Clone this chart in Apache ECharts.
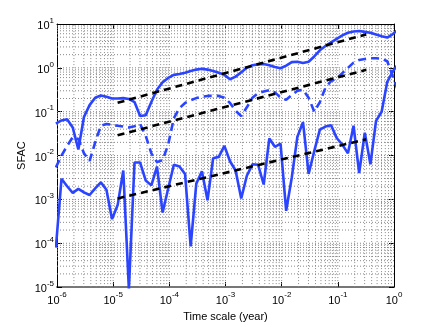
<!DOCTYPE html>
<html>
<head>
<meta charset="utf-8">
<script src="https://cdn.jsdelivr.net/npm/echarts@6/dist/echarts.min.js"></script>
<style>
  html, body { margin: 0; background: #fff; }
  #chart { width: 436px; height: 327px; }
</style>
</head>
<body>
<div id="chart"></div>
<script>
// sample times, log10(year)
var timeLog = [
  -6.02, -5.92, -5.82, -5.72, -5.62, -5.52, -5.42, -5.32, -5.22, -5.12,
  -5.02, -4.92, -4.82, -4.72, -4.62, -4.52, -4.42, -4.32, -4.22, -4.12,
  -4.02, -3.92, -3.82, -3.72, -3.62, -3.52, -3.42, -3.32, -3.22, -3.12,
  -3.02, -2.92, -2.82, -2.72, -2.62, -2.52, -2.42, -2.32, -2.22, -2.12,
  -2.02, -1.92, -1.82, -1.72, -1.62, -1.52, -1.42, -1.32, -1.22, -1.12,
  -1.02, -0.92, -0.82, -0.72, -0.62, -0.52, -0.42, -0.32, -0.22, -0.12,
  -0.02, 0.08
];

// SFAC values, log10
var upperLog = [
  -1.27, -1.20, -1.17, -1.36, -1.86, -1.12, -0.85, -0.68, -0.63, -0.66,
  -0.70, -0.70, -0.69, -0.71, -0.78, -1.10, -1.08, -0.78, -0.50, -0.33,
  -0.23, -0.16, -0.14, -0.11, -0.07, -0.04, -0.02, -0.04, -0.07, -0.11,
  -0.16, -0.26, -0.20, -0.10, 0.00, 0.06, 0.08, 0.09, 0.06, 0.02,
  -0.01, 0.05, 0.13, 0.14, 0.11, 0.14, 0.26, 0.40, 0.50, 0.58,
  0.66, 0.74, 0.80, 0.83, 0.84, 0.82, 0.80, 0.76, 0.72, 0.69,
  0.77, 0.88
];
var middleLog = [
  -2.27, -2.00, -1.78, -1.58, -1.62, -1.95, -2.12, -1.70, -1.32, -1.28,
  -1.30, -1.32, -1.34, -1.36, -1.33, -1.28, -1.55, -1.95, -2.15, -2.10,
  -1.75, -1.15, -0.92, -0.80, -0.74, -0.69, -0.66, -0.64, -0.64, -0.64,
  -0.68, -0.80, -0.98, -1.10, -0.90, -0.68, -0.58, -0.54, -0.51, -0.56,
  -0.68, -0.73, -0.62, -0.52, -0.50, -0.68, -1.00, -0.78, -0.45, -0.30,
  -0.24, -0.12, 0.00, 0.12, 0.18, 0.20, 0.22, 0.22, 0.21, 0.15,
  -0.20, -0.55
];
var lowerLog = [
  -4.10, -2.53, -2.70, -2.85, -2.76, -2.84, -2.90, -2.75, -2.61, -2.78,
  -3.45, -3.13, -2.34, -5.05, -2.16, -2.16, -2.57, -2.68, -2.25, -3.30,
  -2.75, -2.21, -2.25, -2.42, -4.07, -2.64, -2.36, -3.02, -2.06, -2.03,
  -1.78, -2.13, -2.34, -2.98, -2.46, -2.20, -2.21, -2.66, -1.61, -1.80,
  -1.73, -3.26, -2.50, -1.57, -1.24, -2.42, -1.90, -1.41, -1.34, -1.31,
  -1.60, -1.75, -1.95, -1.32, -2.40, -1.48, -2.20, -1.21, -1.00, -0.32,
  -0.08, 0.10
];

// power-law fits: end points
var fitTime = [1.2e-5, 0.32];
var fitUpper = [0.16, 5.8];
var fitMiddle = [0.029, 0.90];
var fitLower = [1.05e-3, 0.0234];

var xDecades = [-6, -5, -4, -3, -2, -1, 0];
var yDecades = [-5, -4, -3, -2, -1, 0, 1];

var FONT = 'Liberation Sans, Arial, Helvetica, sans-serif';
var BLUE = '#2a44ff';

var xMin = Math.pow(10, xDecades[0]);
var xMax = Math.pow(10, xDecades[xDecades.length - 1]);
var yMin = Math.pow(10, yDecades[0]);
var yMax = Math.pow(10, yDecades[yDecades.length - 1]);

var toPoints = function (logs) {
  return timeLog.map(function (t, i) {
    return [Math.pow(10, t), Math.pow(10, logs[i])];
  });
};
var fitPoints = function (vals) {
  return fitTime.map(function (t, i) { return [t, vals[i]]; });
};

// grid positions at every 1..9 x 10^n inside the range
var gridValues = function (decades) {
  var out = [];
  for (var d = 0; d < decades.length - 1; d++) {
    for (var k = 1; k <= 9; k++) {
      if (d === 0 && k === 1) continue;
      out.push(k * Math.pow(10, decades[d]));
    }
  }
  return out;
};

var gridSeries = function (points) {
  return {
    type: 'line',
    data: points,
    showSymbol: false,
    silent: true,
    clip: false,
    lineStyle: { type: [1, 2], color: '#888', width: 1 },
    z: 1
  };
};

var powLabel = function (v) {
  return '{b|10}{s|' + Math.round(Math.log10(v)) + '}';
};
var labelRich = {
  b: { fontSize: 11, fontFamily: FONT, color: '#000', verticalAlign: 'bottom', lineHeight: 15 },
  s: { fontSize: 8, fontFamily: FONT, color: '#000', verticalAlign: 'top' }
};

var logAxis = function (decades, extra) {
  var ax = {
    type: 'log',
    logBase: 10,
    min: Math.pow(10, decades[0]),
    max: Math.pow(10, decades[decades.length - 1]),
    splitNumber: 6,
    axisLine: { show: true, lineStyle: { color: '#000', width: 1 } },
    axisTick: { show: true, inside: true, length: 5, lineStyle: { color: '#000' } },
    splitLine: { show: false },
    axisLabel: { show: false }
  };
  return Object.assign(ax, extra);
};

var series = [];
gridValues(xDecades).forEach(function (v) {
  series.push(gridSeries([[v, yMin], [v, yMax]]));
});
gridValues(yDecades).forEach(function (v) {
  series.push(gridSeries([[xMin, v], [xMax, v]]));
});

series.push(
  {
    type: 'line',
    data: toPoints(upperLog),
    showSymbol: false,
    clip: true,
    lineStyle: { color: BLUE, width: 2.6 },
    z: 3
  },
  {
    type: 'line',
    data: toPoints(middleLog),
    showSymbol: false,
    clip: true,
    lineStyle: { color: BLUE, width: 2.6, type: [8, 5] },
    z: 3
  },
  {
    type: 'line',
    data: toPoints(lowerLog),
    showSymbol: false,
    clip: true,
    lineStyle: { color: BLUE, width: 2.6 },
    z: 3
  },
  {
    type: 'line',
    data: fitPoints(fitUpper),
    showSymbol: false,
    lineStyle: { color: '#000', width: 2.6, type: [7, 5] },
    z: 4
  },
  {
    type: 'line',
    data: fitPoints(fitMiddle),
    showSymbol: false,
    lineStyle: { color: '#000', width: 2.6, type: [7, 5] },
    z: 4
  },
  {
    type: 'line',
    data: fitPoints(fitLower),
    showSymbol: false,
    lineStyle: { color: '#000', width: 2.6, type: [7, 5] },
    z: 4
  }
);

var chart = echarts.init(document.getElementById('chart'));

chart.setOption({
  animation: false,
  grid: { left: 57, right: 42, top: 24, bottom: 36 },
  xAxis: [
    logAxis(xDecades, {
      position: 'bottom',
      name: 'Time scale (year)',
      nameLocation: 'middle',
      nameGap: 20,
      nameTextStyle: { fontSize: 11, fontFamily: FONT, color: '#000' },
      axisLine: { show: true, lineStyle: { color: '#777', width: 2 } },
      axisLabel: { show: true, margin: 4, formatter: powLabel, rich: labelRich }
    }),
    logAxis(xDecades, { position: 'top' })
  ],
  yAxis: [
    logAxis(yDecades, {
      position: 'left',
      name: 'SFAC',
      nameLocation: 'middle',
      nameGap: 30,
      nameMoveOverlap: false,
      nameTextStyle: { fontSize: 11, fontFamily: FONT, color: '#000' },
      axisLabel: { show: true, margin: 3, formatter: powLabel, rich: labelRich }
    }),
    logAxis(yDecades, { position: 'right' })
  ],
  series: series
});
</script>
</body>
</html>
